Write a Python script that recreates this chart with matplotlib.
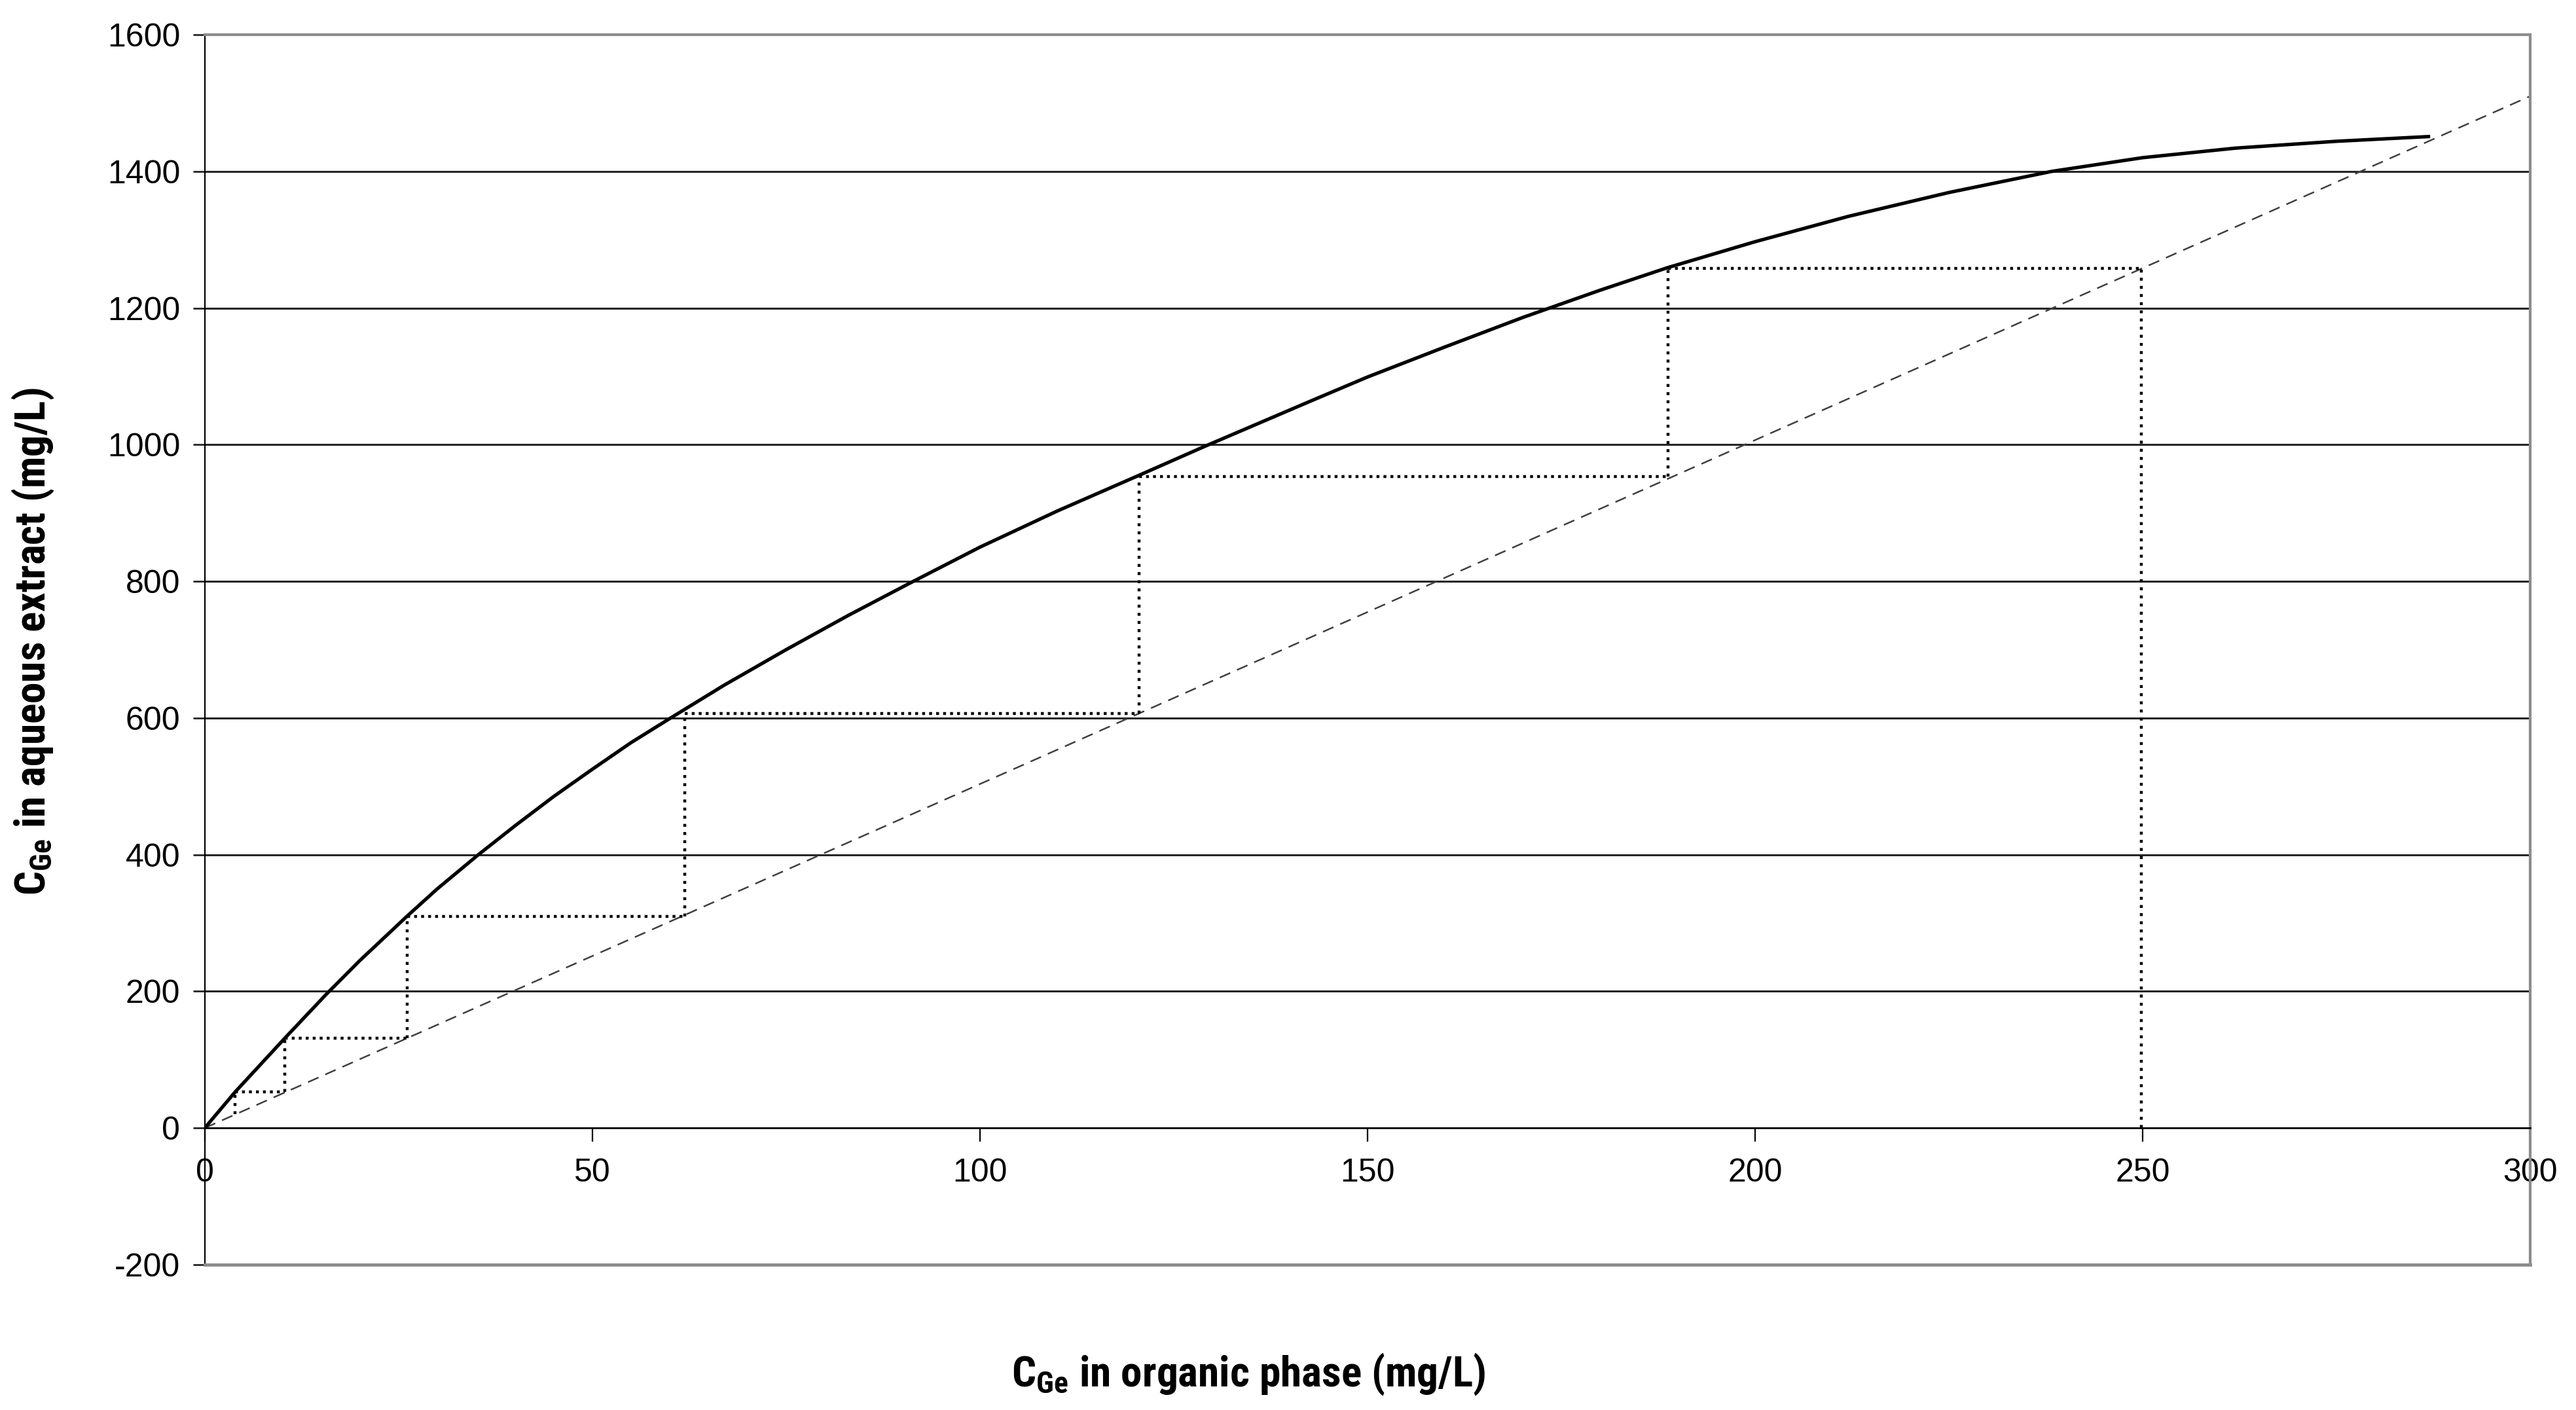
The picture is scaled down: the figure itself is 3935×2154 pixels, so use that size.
import matplotlib

matplotlib.use('agg')
import matplotlib.pyplot as plt
from matplotlib import font_manager

# equilibrium curve
curve_x = [0, 3.9, 10.35, 15.7, 20, 26.1, 30, 35.3, 40, 45, 50, 55, 60.1, 67, 75, 83, 90.9,
           100, 110, 120.5, 128.9, 142.5, 150, 160, 170, 180, 188.7, 200, 212, 225, 238.3,
           250, 262, 275, 287.1]
curve_y = [0, 52.5, 131.7, 196, 245, 310, 350, 400, 442, 485, 525, 564, 600, 648, 700, 750, 797,
           850, 903, 955, 997, 1063, 1099, 1143, 1186, 1226, 1259, 1297, 1334, 1369, 1400,
           1420, 1434, 1444, 1451]

# operating line
op_x = [0, 300]
op_y = [0, 1510]

# McCabe-Thiele steps
stage_x = [249.8, 188.8, 120.5, 61.9, 26.1, 10.35, 3.9]
stage_lo = [0, 953, 607, 310, 131.7, 52.5, 20]
stage_hi = [1258, 1258, 953, 607, 310, 131.7, 52.5]

xticks = [0, 50, 100, 150, 200, 250, 300]
yticks = [-200, 0, 200, 400, 600, 800, 1000, 1200, 1400, 1600]

names = {f.name for f in font_manager.fontManager.ttflist}
narrow = 'Liberation Sans'
for cand in ['Liberation Sans Narrow', 'Arial Narrow', 'Roboto Condensed']:
    if cand in names:
        narrow = cand
        break
plt.rcParams['font.family'] = ['Liberation Sans', 'DejaVu Sans']
plt.rcParams['mathtext.fontset'] = 'custom'
plt.rcParams['mathtext.rm'] = narrow
plt.rcParams['mathtext.bf'] = narrow + ':bold'
plt.rcParams['axes.unicode_minus'] = False

fig = plt.figure(figsize=(39.35, 21.54), dpi=100)
ax = fig.add_axes([0.0795, 0.1031, 0.9822 - 0.0795, 0.9754 - 0.1031])

for yv in yticks[2:-1]:
    ax.axhline(yv, color='#262626', lw=2.2, zorder=1)

ax.plot(op_x, op_y, color='#404040', lw=1.8, dashes=(7, 4.5), zorder=2)
ax.vlines(stage_x, stage_lo, stage_hi, colors='black', lw=3.2, linestyles=(0, (1, 1.8)), zorder=3)
ax.hlines(stage_hi[1:], stage_x[1:], stage_x[:-1], colors='black', lw=3.2,
          linestyles=(0, (1, 1.4)), zorder=3)
ax.plot(curve_x, curve_y, color='black', lw=3.8, zorder=4, solid_capstyle='butt',
        solid_joinstyle='round')

ax.set_xlim(0, 300)
ax.set_ylim(-200, 1600)
ax.set_xticks(xticks)
ax.set_yticks(yticks)

ax.spines['bottom'].set_position(('data', 0))
ax.spines['bottom'].set_color('black')
ax.spines['bottom'].set_linewidth(2)
ax.spines['left'].set_color('black')
ax.spines['left'].set_linewidth(1.6)
for s in ['top', 'right']:
    ax.spines[s].set_color('#8c8c8c')
    ax.spines[s].set_linewidth(3)
ax.axhline(-200, color='#8c8c8c', lw=3.5, clip_on=False, zorder=5)

ax.tick_params(axis='x', direction='out', length=15, width=1.6, pad=18, labelsize=36)
ax.tick_params(axis='y', direction='out', length=13, width=2, pad=14, labelsize=36,
               color='#262626')

fig.text(0.4846, 0.0255, r'C$_{\mathbf{Ge}}$ in organic phase (mg/L)',
         ha='center', va='center', fontsize=47, fontweight='bold', family=[narrow, 'DejaVu Sans'])
fig.text(0.0127, 0.545, r'C$_{\mathbf{Ge}}$ in aqueous extract (mg/L)',
         ha='center', va='center', rotation=90, fontsize=47, fontweight='bold',
         family=[narrow, 'DejaVu Sans'])

fig.savefig('out.png', dpi=100, facecolor='white')
